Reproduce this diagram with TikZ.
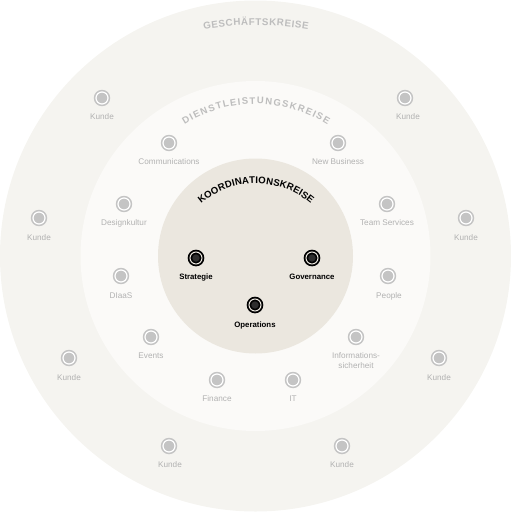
\documentclass[tikz,border=0pt]{standalone}
\usepackage{fontspec}
\setmainfont{Liberation Sans}
\usetikzlibrary{decorations.text}
\definecolor{outerbg}{HTML}{F5F4F0}
\definecolor{midbg}{HTML}{FBFAF8}
\definecolor{corebg}{HTML}{EBE7DF}
\definecolor{dotgrey}{HTML}{C4C4C4}
\definecolor{labgrey}{HTML}{B2B2B2}
\definecolor{headgrey}{HTML}{BDBDBD}
\definecolor{coredark}{HTML}{2E2E2E}
\tikzset{
  gdot/.style={circle, inner sep=0pt, minimum size=12pt, fill=dotgrey, draw=dotgrey,
    double=white, double distance=1.2pt, line width=1.6pt},
  cdot/.style={circle, inner sep=0pt, minimum size=12pt, fill=coredark, draw=black,
    double=corebg, double distance=1.0pt, line width=1.8pt},
  glab/.style={text=labgrey, font=\fontsize{8.2}{9.2}\selectfont, inner sep=0pt, align=center},
  clab/.style={text=black, font=\bfseries\fontsize{7.8}{9}\selectfont, inner sep=0pt},
}
\begin{document}
\begin{tikzpicture}[x=1pt,y=1pt]
\useasboundingbox (0,0) rectangle (511,-512);
\coordinate (c) at (255.5,-256);
\fill[outerbg] (c) circle[radius=255.5];
\fill[midbg] (c) circle[radius=175];
\fill[corebg] (c) circle[radius=97.5];

% headers
\coordinate (gc) at (256,-335);
\coordinate (dc) at (256,-237);
\coordinate (kc) at (256,-268);
\path[decorate, decoration={text along path, text align=fit to path, text color=headgrey,
  text={|\bfseries\fontsize{9.8}{10}\selectfont|GESCHÄFTSKREISE}}]
  ([shift={(99.7:310)}]gc) arc[start angle=99.7, end angle=80.3, radius=310];
\path[decorate, decoration={text along path, text align=fit to path, text color=headgrey,
  text={|\bfseries\fontsize{9.5}{10}\selectfont|DIENSTLEISTUNGSKREISE}}]
  ([shift={(122.5:133)}]dc) arc[start angle=122.5, end angle=57.5, radius=133];
\path[decorate, decoration={text along path, text align=fit to path, text color=black,
  text={|\bfseries\fontsize{9.6}{10}\selectfont|KOORDINATIONSKREISE}}]
  ([shift={(130.5:84.5)}]kc) arc[start angle=130.5, end angle=49.5, radius=84.5];

% outer ring: Kunde
\node[gdot] (k1) at (102,-98) {};   \node[glab] (lk1) at (102,-117) {Kunde};
\node[gdot] (k2) at (405,-98) {};   \node[glab] (lk2) at (408,-117) {Kunde};
\node[gdot] (k3) at (39,-218) {};   \node[glab] (lk3) at (39,-238) {Kunde};
\node[gdot] (k4) at (466,-218) {};  \node[glab] (lk4) at (466,-238) {Kunde};
\node[gdot] (k5) at (69,-358) {};   \node[glab] (lk5) at (69,-378) {Kunde};
\node[gdot] (k6) at (439,-358) {};  \node[glab] (lk6) at (439,-378) {Kunde};
\node[gdot] (k7) at (169,-446) {};  \node[glab] (lk7) at (170,-465) {Kunde};
\node[gdot] (k8) at (342,-446) {};  \node[glab] (lk8) at (342,-465) {Kunde};

% middle ring
\node[gdot] (d1) at (169,-143) {};  \node[glab] (ld1) at (169,-162) {Communications};
\node[gdot] (d2) at (338,-143) {};  \node[glab] (ld2) at (338,-162) {New Business};
\node[gdot] (d3) at (124,-204) {};  \node[glab] (ld3) at (124,-223) {Designkultur};
\node[gdot] (d4) at (387,-204) {};  \node[glab] (ld4) at (387,-223) {Team Services};
\node[gdot] (d5) at (121,-276) {};  \node[glab] (ld5) at (121,-296) {DIaaS};
\node[gdot] (d6) at (388,-276) {};  \node[glab] (ld6) at (389,-296) {People};
\node[gdot] (d7) at (151,-337) {};  \node[glab] (ld7) at (151,-356) {Events};
\node[gdot] (d8) at (356,-337) {};  \node[glab] (ld8) at (356,-360.5) {Informations-\\sicherheit};
\node[gdot] (d9) at (217,-380) {};  \node[glab] (ld9) at (217,-399) {Finance};
\node[gdot] (d10) at (293,-380) {}; \node[glab] (ld10) at (293,-399) {IT};

% core
\node[cdot] (s) at (196,-258) {};   \node[clab] (ls) at (196,-277) {Strategie};
\node[cdot] (g) at (312,-258) {};   \node[clab] (lg) at (312,-277) {Governance};
\node[cdot] (o) at (255,-305) {};   \node[clab] (lo) at (255,-325) {Operations};
\end{tikzpicture}
\end{document}
